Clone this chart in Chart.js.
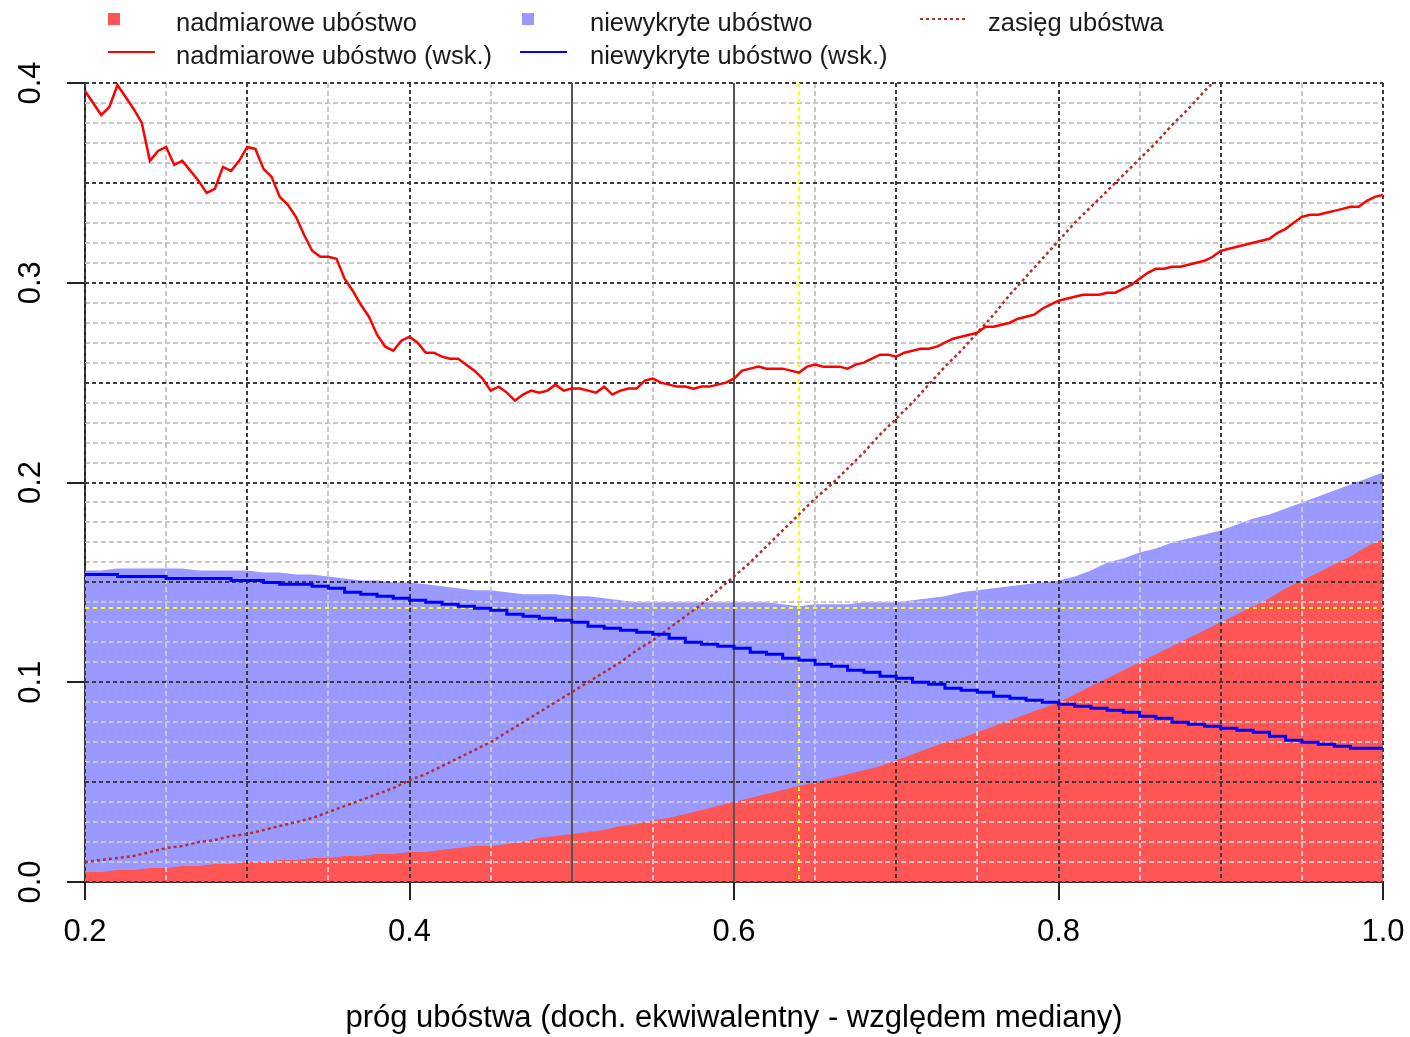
<!DOCTYPE html>
<html>
<head>
<meta charset="utf-8">
<script src="https://cdn.jsdelivr.net/npm/chart.js@4.4.1/dist/chart.umd.min.js"></script>
<style>
  html, body { margin: 0; padding: 0; background: #fff; }
  #wrap { width: 1410px; height: 1037px; }
</style>
</head>
<body>
<div id="wrap"><canvas id="povertyChart"></canvas></div>
<script>
// poverty threshold (share of median equivalent income)
const areaStep = 0.01;   // grid of the shaded areas and blue/brown lines
const lineStep = 0.005;  // grid of the red index line

// shaded: excess poverty (red) and uncovered poverty (blue), 0.20 .. 1.00
const excessArea = [
  0.005, 0.005, 0.006, 0.006, 0.007, 0.007, 0.008, 0.008, 0.009, 0.009,
  0.010, 0.010, 0.011, 0.011, 0.012, 0.012, 0.013, 0.013, 0.014, 0.014,
  0.015, 0.015, 0.016, 0.017, 0.018, 0.018, 0.019, 0.020, 0.022, 0.023,
  0.024, 0.025, 0.026, 0.028, 0.029, 0.031, 0.032, 0.034, 0.036, 0.038,
  0.040, 0.042, 0.044, 0.046, 0.048, 0.050, 0.052, 0.054, 0.056, 0.058,
  0.061, 0.064, 0.067, 0.070, 0.072, 0.075, 0.078, 0.081, 0.084, 0.087,
  0.090, 0.094, 0.098, 0.102, 0.106, 0.110, 0.114, 0.118, 0.122, 0.126,
  0.130, 0.134, 0.138, 0.142, 0.147, 0.151, 0.155, 0.159, 0.163, 0.168,
  0.172
];
const uncoveredArea = [
  0.156, 0.156, 0.157, 0.157, 0.157, 0.157, 0.157, 0.156, 0.156, 0.156,
  0.156, 0.155, 0.155, 0.154, 0.154, 0.153, 0.152, 0.151, 0.151, 0.150,
  0.150, 0.149, 0.148, 0.147, 0.146, 0.146, 0.145, 0.144, 0.144, 0.144,
  0.143, 0.143, 0.142, 0.141, 0.140, 0.140, 0.140, 0.140, 0.140, 0.140,
  0.140, 0.140, 0.140, 0.139, 0.138, 0.139, 0.139, 0.139, 0.140, 0.140,
  0.140, 0.141, 0.142, 0.143, 0.145, 0.146, 0.147, 0.148, 0.149, 0.150,
  0.151, 0.153, 0.156, 0.160, 0.162, 0.165, 0.167, 0.170, 0.172, 0.174,
  0.176, 0.179, 0.182, 0.184, 0.187, 0.190, 0.193, 0.196, 0.199, 0.202,
  0.205
];

// uncovered poverty index (blue line), 0.20 .. 1.00
const uncoveredIndex = [
  0.154, 0.154, 0.154, 0.153, 0.153, 0.153, 0.152, 0.152, 0.152, 0.152,
  0.151, 0.151, 0.150, 0.149, 0.149, 0.148, 0.147, 0.145, 0.144, 0.143,
  0.142, 0.141, 0.140, 0.139, 0.138, 0.137, 0.136, 0.134, 0.133, 0.132,
  0.131, 0.130, 0.128, 0.127, 0.126, 0.125, 0.124, 0.122, 0.120, 0.119,
  0.118, 0.117, 0.115, 0.114, 0.112, 0.111, 0.109, 0.108, 0.106, 0.105,
  0.103, 0.102, 0.100, 0.099, 0.097, 0.096, 0.095, 0.093, 0.092, 0.091,
  0.090, 0.089, 0.088, 0.087, 0.086, 0.085, 0.083, 0.082, 0.080, 0.079,
  0.078, 0.077, 0.076, 0.075, 0.073, 0.071, 0.070, 0.069, 0.068, 0.067,
  0.067
];

// poverty range (brown dotted), 0.20 .. 0.90, runs off the top after that
const povertyRange = [
  0.010, 0.011, 0.012, 0.013, 0.015, 0.017, 0.018, 0.020, 0.021, 0.023,
  0.024, 0.026, 0.028, 0.030, 0.032, 0.035, 0.038, 0.041, 0.044, 0.047,
  0.051, 0.054, 0.058, 0.062, 0.066, 0.070, 0.075, 0.080, 0.085, 0.090,
  0.095, 0.100, 0.105, 0.110, 0.116, 0.121, 0.127, 0.133, 0.139, 0.146,
  0.153, 0.160, 0.168, 0.176, 0.184, 0.192, 0.199, 0.207, 0.215, 0.224,
  0.232, 0.240, 0.249, 0.258, 0.266, 0.275, 0.284, 0.294, 0.303, 0.312,
  0.321, 0.330, 0.338, 0.346, 0.354, 0.362, 0.370, 0.379, 0.387, 0.396,
  0.404
];

// excess poverty index (red line), 0.200 .. 1.000 every 0.005
const excessIndex = [
  0.396, 0.390, 0.384, 0.388, 0.399, 0.393, 0.387, 0.380, 0.361, 0.366,
  0.368, 0.359, 0.361, 0.356, 0.351, 0.345, 0.347, 0.358, 0.356, 0.361,
  0.368, 0.367, 0.357, 0.353, 0.343, 0.339, 0.333, 0.324, 0.316, 0.313,
  0.313, 0.312, 0.302, 0.296, 0.289, 0.283, 0.274, 0.268, 0.266, 0.271,
  0.273, 0.270, 0.265, 0.265, 0.263, 0.262, 0.262, 0.259, 0.256, 0.252,
  0.246, 0.248, 0.245, 0.241, 0.244, 0.246, 0.245, 0.246, 0.249, 0.246,
  0.247, 0.247, 0.246, 0.245, 0.248, 0.244, 0.246, 0.247, 0.247, 0.251,
  0.252, 0.250, 0.249, 0.248, 0.248, 0.247, 0.248, 0.248, 0.249, 0.250,
  0.252, 0.256, 0.257, 0.258, 0.257, 0.257, 0.257, 0.256, 0.255, 0.258,
  0.259, 0.258, 0.258, 0.258, 0.257, 0.259, 0.260, 0.262, 0.264, 0.264,
  0.263, 0.265, 0.266, 0.267, 0.267, 0.268, 0.270, 0.272, 0.273, 0.274,
  0.275, 0.278, 0.278, 0.279, 0.280, 0.282, 0.283, 0.284, 0.287, 0.289,
  0.291, 0.292, 0.293, 0.294, 0.294, 0.294, 0.295, 0.295, 0.297, 0.299,
  0.302, 0.305, 0.307, 0.307, 0.308, 0.308, 0.309, 0.310, 0.311, 0.313,
  0.316, 0.317, 0.318, 0.319, 0.320, 0.321, 0.322, 0.325, 0.327, 0.330,
  0.333, 0.334, 0.334, 0.335, 0.336, 0.337, 0.338, 0.338, 0.341, 0.343,
  0.344
];

const xTicks = [0.2, 0.4, 0.6, 0.8, 1.0];
const yTicks = [0.0, 0.1, 0.2, 0.3, 0.4];
const solidLines = [0.5, 0.6];
const markerThreshold = 0.64; // yellow vertical
const markerLevel = 0.137;    // yellow horizontal

const FONT = '"Liberation Sans", Arial, sans-serif';

function toPoints(values, step) {
  return values.map((v, i) => ({ x: +(0.2 + i * step).toFixed(3), y: v }));
}

// grid drawn over the shaded areas but under the lines
const gridPlugin = {
  id: 'rGrid',
  beforeDatasetsDraw(chart) {
    const { ctx, chartArea: a, scales: { x, y } } = chart;
    ctx.save();
    ctx.lineWidth = 2;
    const vline = (v) => { const px = Math.round(x.getPixelForValue(v)); ctx.beginPath(); ctx.moveTo(px, a.top); ctx.lineTo(px, a.bottom); ctx.stroke(); };
    const hline = (v) => { const py = Math.round(y.getPixelForValue(v)); ctx.beginPath(); ctx.moveTo(a.left, py); ctx.lineTo(a.right, py); ctx.stroke(); };

    // light grid
    ctx.strokeStyle = '#c8c8c8';
    ctx.setLineDash([5, 3]);
    for (let i = 0; i <= 40; i++) { if (i % 5 !== 0) hline(i / 100); }
    for (let i = 5; i < 100; i += 10) { if (i > 20) vline(i / 100); }

    // dark grid
    ctx.strokeStyle = '#3c3c3c';
    ctx.setLineDash([4, 3]);
    for (let i = 0; i <= 40; i += 5) hline(i / 100);
    for (let i = 2; i <= 10; i++) { if (!solidLines.includes(i / 10)) vline(i / 10); }

    ctx.setLineDash([]);
    ctx.strokeStyle = '#555555';
    solidLines.forEach(vline);

    ctx.strokeStyle = '#ffff00';
    ctx.setLineDash([4, 4]);
    vline(markerThreshold);
    hline(markerLevel);
    ctx.restore();
  }
};

// rotated y labels and the two-row legend
const textPlugin = {
  id: 'rText',
  afterDraw(chart) {
    const { ctx, scales: { y } } = chart;
    ctx.save();
    ctx.fillStyle = '#000';
    ctx.font = '31px ' + FONT;
    ctx.textAlign = 'center';
    ctx.textBaseline = 'middle';
    yTicks.forEach(v => {
      ctx.save();
      ctx.translate(31, y.getPixelForValue(v));
      ctx.rotate(-Math.PI / 2);
      ctx.fillText(v.toFixed(1), 0, 0);
      ctx.restore();
    });

    const ds = chart.data.datasets;
    const items = [
      { d: ds[3], kind: 'box', x0: 108, x1: 155, tx: 176, row: 0 },
      { d: ds[4], kind: 'box', x0: 522, x1: 568, tx: 590, row: 0 },
      { d: ds[2], kind: 'line', x0: 920, x1: 966, tx: 988, row: 0 },
      { d: ds[0], kind: 'line', x0: 108, x1: 155, tx: 176, row: 1 },
      { d: ds[1], kind: 'line', x0: 520, x1: 567, tx: 590, row: 1 }
    ];
    const rowMid = [19, 52];
    const rowBase = [31, 64];
    ctx.font = '25.5px ' + FONT;
    ctx.textAlign = 'left';
    ctx.textBaseline = 'alphabetic';
    items.forEach(it => {
      const cy = rowMid[it.row];
      if (it.kind === 'box') {
        ctx.fillStyle = it.d.backgroundColor;
        ctx.fillRect(it.x0, cy - 6, 12, 12);
      } else {
        ctx.strokeStyle = it.d.borderColor;
        ctx.lineWidth = 2;
        ctx.setLineDash(it.d.borderDash || []);
        ctx.beginPath();
        ctx.moveTo(it.x0, cy);
        ctx.lineTo(it.x1, cy);
        ctx.stroke();
        ctx.setLineDash([]);
      }
      ctx.fillStyle = '#1a1a1a';
      ctx.fillText(it.d.label, it.tx, rowBase[it.row]);
    });
    ctx.restore();
  }
};

new Chart('povertyChart', {
  type: 'line',
  data: {
    datasets: [
      {
        label: 'nadmiarowe ubóstwo (wsk.)',
        data: toPoints(excessIndex, lineStep),
        borderColor: '#ff0000',
        borderWidth: 2.5,
        pointRadius: 0,
        fill: false
      },
      {
        label: 'niewykryte ubóstwo (wsk.)',
        data: toPoints(uncoveredIndex, areaStep),
        borderColor: '#0000ff',
        borderWidth: 3,
        stepped: 'after',
        pointRadius: 0,
        fill: false
      },
      {
        label: 'zasięg ubóstwa',
        data: toPoints(povertyRange, areaStep),
        borderColor: '#b03030',
        borderWidth: 2.5,
        borderDash: [3, 3],
        pointRadius: 0,
        fill: false
      },
      {
        label: 'nadmiarowe ubóstwo',
        data: toPoints(excessArea, areaStep),
        backgroundColor: '#ff5555',
        borderColor: 'rgba(0,0,0,0)',
        borderWidth: 0,
        pointRadius: 0,
        fill: 'origin'
      },
      {
        label: 'niewykryte ubóstwo',
        data: toPoints(uncoveredArea, areaStep),
        backgroundColor: '#9999ff',
        borderColor: 'rgba(0,0,0,0)',
        borderWidth: 0,
        pointRadius: 0,
        fill: 'origin'
      }
    ]
  },
  options: {
    responsive: true,
    maintainAspectRatio: false,
    animation: false,
    layout: { padding: { top: 83, right: 27, left: 0, bottom: 0 } },
    plugins: {
      legend: { display: false },
      tooltip: { enabled: false },
      filler: { drawTime: 'beforeDatasetsDraw' }
    },
    scales: {
      x: {
        type: 'linear',
        min: 0.2,
        max: 1.0,
        afterBuildTicks: s => { s.ticks = xTicks.map(v => ({ value: v })); },
        ticks: {
          callback: v => v.toFixed(1),
          font: { family: FONT, size: 31 },
          color: '#000',
          padding: 14,
          maxRotation: 0,
          autoSkip: false
        },
        grid: { drawOnChartArea: false, drawTicks: true, tickLength: 18, color: '#222', lineWidth: 2 },
        border: { display: true, color: '#222', width: 2 },
        title: {
          display: true,
          text: 'próg ubóstwa (doch. ekwiwalentny - względem mediany)',
          font: { family: FONT, size: 31 },
          color: '#000',
          padding: 0
        },
        afterFit: s => { s.height = 155; s.paddingLeft = 0; s.paddingRight = 0; }
      },
      y: {
        min: 0,
        max: 0.4,
        afterBuildTicks: s => { s.ticks = yTicks.map(v => ({ value: v })); },
        ticks: { display: false },
        grid: { drawOnChartArea: false, drawTicks: true, tickLength: 18, color: '#222', lineWidth: 2 },
        border: { display: true, color: '#222', width: 2 },
        afterFit: s => { s.width = 85; s.paddingTop = 0; s.paddingBottom = 0; }
      }
    }
  },
  plugins: [gridPlugin, textPlugin]
});
</script>
</body>
</html>
